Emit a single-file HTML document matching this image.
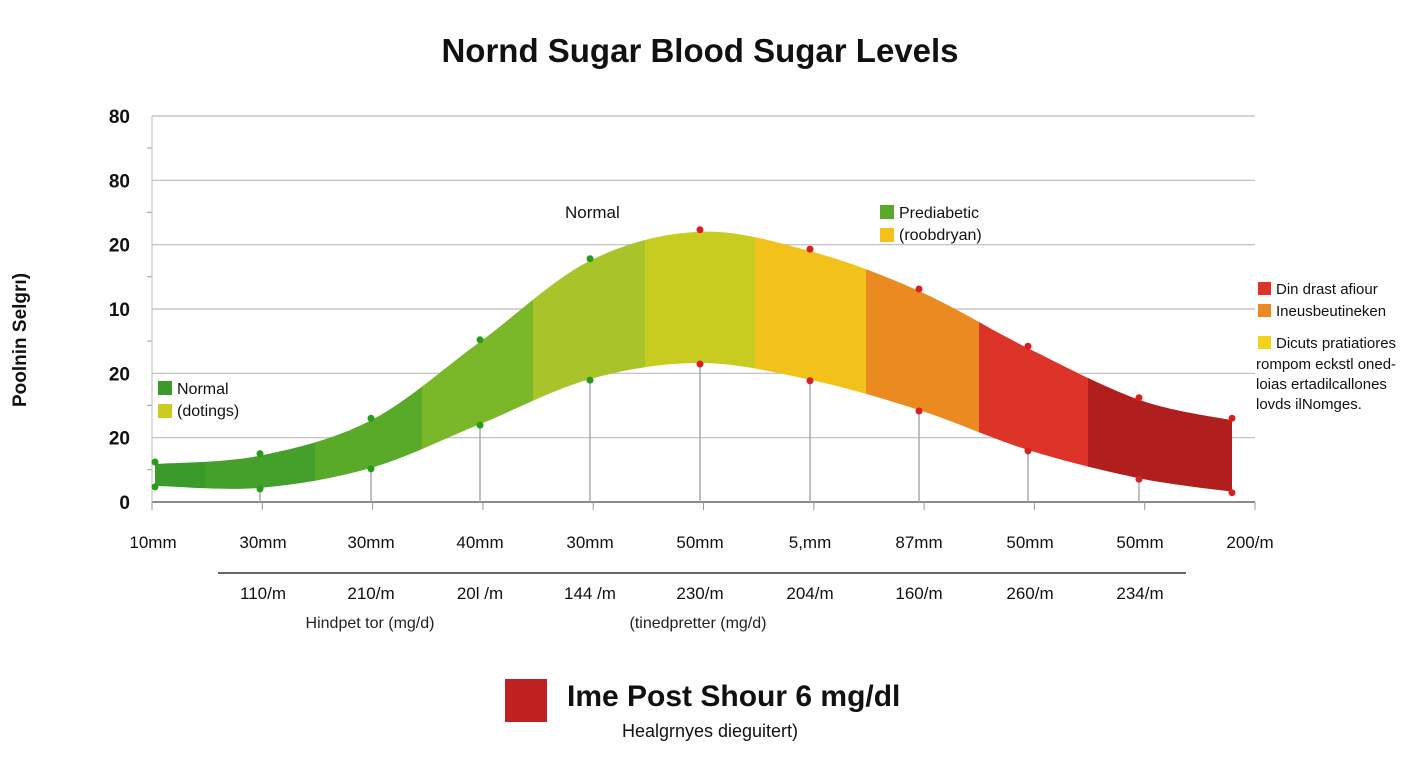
<!DOCTYPE html>
<html><head><meta charset="utf-8"><style>
body{margin:0;width:1408px;height:768px;background:#fff;font-family:"Liberation Sans",sans-serif;overflow:hidden}
svg text{font-family:"Liberation Sans",sans-serif}
</style></head><body>
<svg width="1408" height="768">
<text x="700" y="62" text-anchor="middle" font-size="33" font-weight="bold" fill="#111">Nornd Sugar Blood Sugar Levels</text>
<text transform="translate(26,340) rotate(-90)" text-anchor="middle" font-size="19" font-weight="bold" fill="#111">Poolnin Selgrı)</text>
<g id="grid"></g>
<g id="band"></g>
<g id="marks"></g>
<g id="xlabels"></g>
<line x1="218" y1="573" x2="1186" y2="573" stroke="#333" stroke-width="1.5"/>
<text x="370" y="628" text-anchor="middle" font-size="16" fill="#222">Hindpet tor (mg/d)</text>
<text x="698" y="628" text-anchor="middle" font-size="16" fill="#222">(tinedpretter (mg/d)</text>
<g>
<rect x="158" y="381" width="14" height="14" fill="#3a9a2a"/><text x="177" y="394" font-size="16" fill="#111">Normal</text>
<rect x="158" y="404" width="14" height="14" fill="#c8cc20"/><text x="177" y="416" font-size="16" fill="#111">(dotings)</text>
</g>
<text x="565" y="218" font-size="17" fill="#111">Normal</text>
<g>
<rect x="880" y="205" width="14" height="14" fill="#5aaa2a"/><text x="899" y="218" font-size="16" fill="#111">Prediabetic</text>
<rect x="880" y="228" width="14" height="14" fill="#f2c21a"/><text x="899" y="240" font-size="16" fill="#111">(roobdryan)</text>
</g>
<g font-size="15" fill="#111">
<rect x="1258" y="282" width="13" height="13" fill="#dc3428"/><text x="1276" y="294">Din drast afiour</text>
<rect x="1258" y="304" width="13" height="13" fill="#ea8a20"/><text x="1276" y="316">Ineusbeutineken</text>
<rect x="1258" y="336" width="13" height="13" fill="#f2d21a"/><text x="1276" y="348">Dicuts pratiatiores</text>
<text x="1256" y="369">rompom eckstl oned-</text>
<text x="1256" y="389">loias ertadilcallones</text>
<text x="1256" y="409">lovds ilNomges.</text>
</g>
<rect x="505" y="679" width="42" height="43" fill="#c0201f"/>
<text x="567" y="706" font-size="30" font-weight="bold" fill="#111">Ime Post Shour 6 mg/dl</text>
<text x="710" y="737" text-anchor="middle" font-size="18" fill="#111">Healgrnyes dieguitert)</text>
</svg>
<script>
const yTicks=["80","80","20","10","20","20","0"];
const xTopLabels=["10mm","30mm","30mm","40mm","30mm","50mm","5,mm","87mm","50mm","50mm","200/m"];
const xBottomLabels=["110/m","210/m","20l /m","144 /m","230/m","204/m","160/m","260/m","234/m"];
const upperValues=[0.59,0.72,1.27,2.49,3.75,4.20,3.90,3.28,2.39,1.59,1.27];
const lowerValues=[0.25,0.22,0.53,1.21,1.91,2.16,1.90,1.43,0.81,0.37,0.16];
const segColors=["#3a9a2a","#44a02a","#5aaa2a","#7ab82a","#a8c42a","#c8cc20","#f2c21a","#ea8a20","#dc3428","#b01e1e"];
const NS="http://www.w3.org/2000/svg";
const X0=152,X1=1255,Y0=502,Y1=116;
const xPos=[155,260,371,480,590,700,810,919,1028,1139,1232];
const labelX=[153,263,371,480,590,700,810,919,1030,1140,1250];
function yS(v){return Y0-(v/6)*(Y0-Y1);}
function xS(i){return xPos[i];}
function mk(tag,attrs,parent){const e=document.createElementNS(NS,tag);for(const k in attrs)e.setAttribute(k,attrs[k]);parent.appendChild(e);return e;}
const grid=document.getElementById('grid');
yTicks.forEach((t,i)=>{const y=Y1+i*(Y0-Y1)/(yTicks.length-1);
const l=mk('line',{x1:X0,x2:X1,y1:y,y2:y,stroke:i==yTicks.length-1?'#666':'#bbb','stroke-width':i==yTicks.length-1?1.5:1.2},grid);


const tx=mk('text',{x:130,y:y+7,'text-anchor':'end','font-size':19,'font-weight':'bold',fill:'#111'},grid);tx.textContent=t;


if(i<yTicks.length-1){mk('line',{x1:147,x2:152,y1:y+32,y2:y+32,stroke:'#999'},grid);}
});
mk('line',{x1:X0,x2:X0,y1:Y1,y2:Y0,stroke:'#bbb'},grid);
for(let k=0;k<11;k++){const x=X0+k*110.3;mk('line',{x1:x,x2:x,y1:Y0,y2:Y0+8,stroke:'#999'},grid);}
function pts(vals){return vals.map((v,i)=>[xS(i),yS(v)]);}
function curve(p){let d='';for(let i=0;i<p.length-1;i++){const p0=p[Math.max(i-1,0)],p1=p[i],p2=p[i+1],p3=p[Math.min(i+2,p.length-1)];
const c1=[p1[0]+(p2[0]-p0[0])/6,p1[1]+(p2[1]-p0[1])/6],c2=[p2[0]-(p3[0]-p1[0])/6,p2[1]-(p3[1]-p1[1])/6];
d+=` C${c1[0]},${c1[1]} ${c2[0]},${c2[1]} ${p2[0]},${p2[1]}`;}return d;}
const up=pts(upperValues),lo=pts(lowerValues).reverse();
const bandD=`M${up[0][0]},${up[0][1]}`+curve(up)+` L${lo[0][0]},${lo[0][1]}`+curve(lo)+'Z';
const band=document.getElementById('band');
const defs=mk('defs',{},band);const cp=mk('clipPath',{id:'bc'},defs);mk('path',{d:bandD},cp);
const g=mk('g',{'clip-path':'url(#bc)'},band);
const segEdges=[152,205,315,422,533,645,755,866,979,1088,1240];
segColors.forEach((c,i)=>{const r=mk('rect',{x:segEdges[i],y:100,width:segEdges[i+1]-segEdges[i]+0.5,height:420,fill:c},g);

});
const marks=document.getElementById('marks');
upperValues.forEach((v,i)=>{const x=xS(i),yu=yS(v),yl=yS(lowerValues[i]);
if(i>0&&i<upperValues.length-1){const l=mk('line',{x1:x,x2:x,y1:yl,y2:Y0,stroke:'#aaa','stroke-width':1.5},marks);

}
const col=i<5?'#2a9a1a':'#d42020';
const a=mk('circle',{cx:x,cy:yu-2,r:3.5,fill:col},marks);


const b=mk('circle',{cx:x,cy:yl+1,r:3.5,fill:col},marks);

});
const xl=document.getElementById('xlabels');
xTopLabels.forEach((t,i)=>{const e=mk('text',{x:labelX[i],y:548,'text-anchor':'middle','font-size':17,fill:'#111'},xl);e.textContent=t;

});
xBottomLabels.forEach((t,i)=>{const e=mk('text',{x:labelX[i+1],y:599,'text-anchor':'middle','font-size':17,fill:'#111'},xl);e.textContent=t;

});
</script>
</body></html>
